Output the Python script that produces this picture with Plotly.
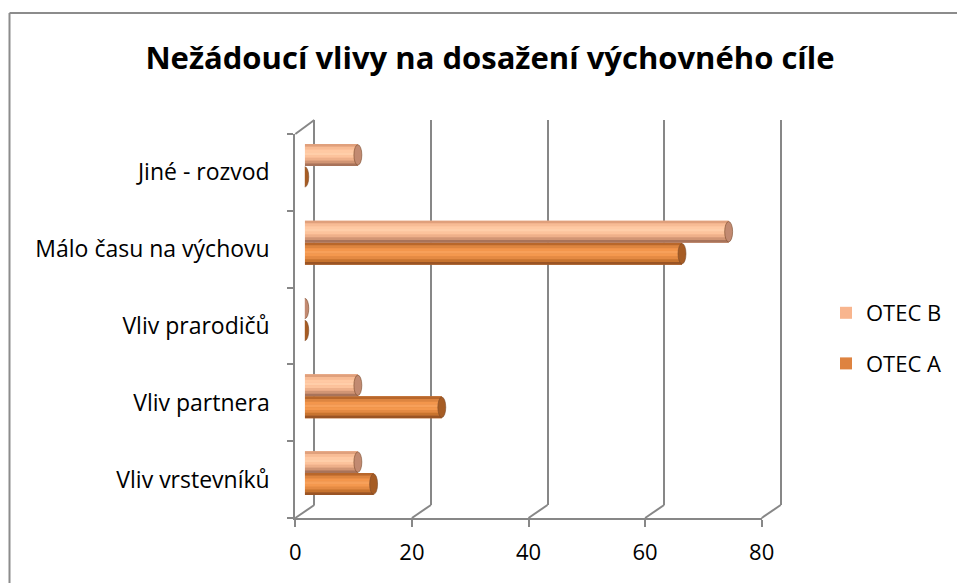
import plotly.graph_objects as go

# ---------------- data ----------------
categories = ["Vliv vrstevníků", "Vliv partnera", "Vliv prarodičů",
              "Málo času na výchovu", "Jiné - rozvod"]
otec_a = [11.8, 23.5, 0, 64.7, 0]
otec_b = [9.1, 9.1, 0, 72.7, 9.1]
x_ticks = [0, 20, 40, 60, 80]
title_text = "Nežádoucí vlivy na dosažení výchovného cíle"

# ---------------- geometry helpers (pixel layout) ----------------
W, H = 957, 583
def px(x):
    return x / W
def py(y):
    return 1 - y / H

FONT = "'Open Sans', 'Noto Sans', sans-serif"
GRID = "#878787"

# front face of the 3D box
FX0, FX1 = 295.3, 761.7        # value 0 / 80 on the front axis
FY_TOP, FY_BOT = 134, 518
# back wall
DX, DY = 19, -13
# bars at mid depth
MX, MY = 9.5, -6.5

n = len(categories)
bar_w = 0.286

fig = go.Figure()

# subplot 1 (x, y): back wall gridlines
fig.add_trace(go.Scatter(x=[0], y=[0], mode="markers", marker=dict(opacity=0),
                         showlegend=False, hoverinfo="skip", xaxis="x", yaxis="y"))

# subplot 2 (x2, y2): bars
fig.add_trace(go.Bar(y=list(range(n)), x=otec_a, orientation="h", name="OTEC A",
                     marker=dict(color="#DE8340", line=dict(width=0)),
                     legendgroup="a", legendrank=2, xaxis="x2", yaxis="y2", width=bar_w,
                     offset=-bar_w))
fig.add_trace(go.Bar(y=list(range(n)), x=otec_b, orientation="h", name="OTEC B",
                     marker=dict(color="#F8B58E", line=dict(width=0)),
                     legendgroup="b", legendrank=1, xaxis="x2", yaxis="y2", width=bar_w,
                     offset=0))

# subplot 3 (x3, y3): front axes
fig.add_trace(go.Scatter(x=[0], y=[0], mode="markers", marker=dict(opacity=0),
                         showlegend=False, hoverinfo="skip", xaxis="x3", yaxis="y3"))

shapes = []

# cylinder shading strips + end caps, drawn in the bars' data coordinates
grad_a = ["#B8672B", "#DD8540", "#F3964C", "#F7A05A", "#F4984E", "#E48A43", "#C8742F", "#9A5424"]
grad_b = ["#E0A07C", "#F8BC95", "#FFC9A3", "#FFCEA9", "#FCC39C", "#EEB08A", "#D19574", "#A8735A"]
cap_a, cap_b = "#A65C24", "#C28A71"
cap_half = 0.68
for vals, grad, cap, y0off in [(otec_a, grad_a, cap_a, -bar_w), (otec_b, grad_b, cap_b, 0.0)]:
    ns = len(grad)
    for i, v in enumerate(vals):
        ylo = i + y0off
        if v > 0:
            for k, c in enumerate(grad):
                shapes.append(dict(type="rect", xref="x2", yref="y2",
                                   x0=0, x1=v,
                                   y0=ylo + bar_w * (ns - 1 - k) / ns,
                                   y1=ylo + bar_w * (ns - k) / ns,
                                   fillcolor=c, line=dict(width=0), layer="above"))
        shapes.append(dict(type="circle", xref="x2", yref="y2",
                           x0=v - cap_half, x1=v + cap_half,
                           y0=ylo + 0.01, y1=ylo + bar_w - 0.01,
                           fillcolor=cap, line=dict(width=0.6, color="#7A4A2A"),
                           layer="above"))

# floor / side-wall connectors of the 3D box
scale = (FX1 - FX0) / (x_ticks[-1] - x_ticks[0])
for t in x_ticks:
    fx = FX0 + (t - x_ticks[0]) * scale
    shapes.append(dict(type="line", xref="paper", yref="paper",
                       x0=px(fx), y0=py(FY_BOT), x1=px(fx + DX), y1=py(FY_BOT + DY),
                       line=dict(color=GRID, width=2), layer="below"))
shapes.append(dict(type="line", xref="paper", yref="paper",
                   x0=px(FX0), y0=py(FY_TOP), x1=px(FX0 + DX), y1=py(FY_TOP + DY - 1),
                   line=dict(color=GRID, width=2), layer="below"))

# outer chart frame (left and top edges visible)
shapes.append(dict(type="line", xref="paper", yref="paper",
                   x0=px(9.5), y0=0, x1=px(9.5), y1=py(13),
                   line=dict(color="#8C8C8C", width=2), layer="below"))
shapes.append(dict(type="line", xref="paper", yref="paper",
                   x0=px(9.5), y0=py(13), x1=1, y1=py(13),
                   line=dict(color="#8C8C8C", width=2), layer="below"))

# back wall axis (slightly padded so edge gridlines are drawn)
pad_px = 2
bx0, bx1 = FX0 + DX - pad_px, FX1 + DX + pad_px
pad_v = pad_px / scale

layout = dict(
    width=W, height=H, autosize=False,
    margin=dict(l=0, r=0, t=0, b=0, pad=0, autoexpand=False),
    paper_bgcolor="white", plot_bgcolor="rgba(0,0,0,0)",
    font=dict(family=FONT, color="#000000", size=20),
    title=dict(text="<b>" + title_text + "</b>", x=px(490), xanchor="center",
               y=py(58), yanchor="middle", font=dict(family=FONT, size=31, color="#000")),
    showlegend=True,
    legend=dict(x=px(826), y=py(292), xanchor="left", yanchor="top",
                traceorder="grouped", tracegroupgap=19,
                font=dict(size=22, family=FONT), bgcolor="rgba(0,0,0,0)",
                itemsizing="constant"),
    barmode="overlay",
    xaxis=dict(domain=[px(bx0), px(bx1)], range=[x_ticks[0] - pad_v, x_ticks[-1] + pad_v],
               tickvals=x_ticks, showticklabels=False, ticks="",
               showgrid=True, gridcolor=GRID, gridwidth=2,
               zeroline=True, zerolinecolor=GRID, zerolinewidth=2,
               showline=False, anchor="y", fixedrange=True, automargin=False),
    yaxis=dict(domain=[py(FY_BOT + DY), py(FY_TOP + DY - 1)], range=[0, 1],
               visible=False, anchor="x", fixedrange=True, automargin=False),
    xaxis2=dict(domain=[px(FX0 + MX), px(FX1 + MX)], range=[x_ticks[0], x_ticks[-1]],
                visible=False, anchor="y2", fixedrange=True, automargin=False),
    yaxis2=dict(domain=[py(FY_BOT + MY), py(FY_TOP + MY)], range=[-0.5, n - 0.5],
                visible=False, anchor="x2", fixedrange=True, automargin=False),
    xaxis3=dict(domain=[px(FX0), px(FX1)], range=[x_ticks[0], x_ticks[-1]],
                tickvals=x_ticks, ticks="outside", ticklen=7, tickwidth=2, tickcolor=GRID,
                ticklabelstandoff=7,
                showline=True, linecolor=GRID, linewidth=2, showgrid=False, zeroline=False,
                tickfont=dict(size=22, family=FONT), anchor="y3", fixedrange=True,
                automargin=False),
    yaxis3=dict(domain=[py(FY_BOT), py(FY_TOP)], range=[-0.5, n - 0.5],
                tickvals=list(range(n)), ticktext=categories, ticks="",
                ticklabelstandoff=19,
                minor=dict(ticks="outside", tickmode="array",
                           tickvals=[i - 0.5 for i in range(n + 1)],
                           ticklen=6, tickwidth=2, tickcolor=GRID),
                showline=True, linecolor=GRID, linewidth=2, showgrid=False, zeroline=False,
                tickfont=dict(size=23, family=FONT), anchor="x3", fixedrange=True,
                automargin=False),
    shapes=shapes,
)
fig.update_layout(**layout)
fig.write_html(
    "out.html",
    config={"displayModeBar": False},
    post_script="document.documentElement.style.margin='0';"
                "document.documentElement.style.overflow='hidden';"
                "document.body.style.margin='0';document.body.style.overflow='hidden';",
)
